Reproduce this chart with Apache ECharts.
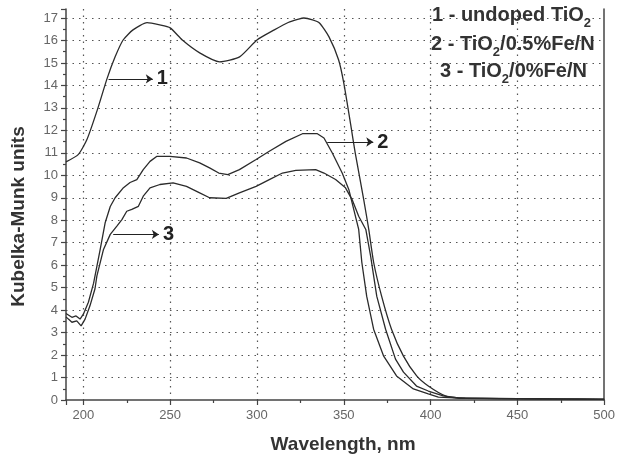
<!DOCTYPE html>
<html>
<head>
<meta charset="utf-8">
<script src="https://cdn.jsdelivr.net/npm/echarts@6/dist/echarts.min.js"></script>
<style>
  html, body { margin: 0; padding: 0; background: #fff; }
  #main { width: 618px; height: 459px; }
</style>
</head>
<body>
<div id="main"></div>
<script>
// curve 1 - undoped TiO2
const wl1 = [190, 197, 202, 208, 213.6, 218.3, 222.9, 228.6, 236.7, 244, 250, 257, 267, 278.5, 290, 300, 310, 318, 324, 327, 332, 336, 341.5, 347, 350, 354, 356.6, 361.5, 364.4, 367.2, 371.8, 377.5, 384.4, 392, 398.7, 408.5, 416, 430, 450, 475, 500]
const km1 = [10.6, 10.92, 11.58, 12.9, 14.29, 15.27, 16.02, 16.47, 16.79, 16.69, 16.56, 16.02, 15.45, 15.05, 15.27, 16.02, 16.47, 16.8, 16.95, 17.0, 16.92, 16.78, 16.16, 15.14, 14.11, 12.25, 11.0, 8.92, 7.59, 6.13, 4.62, 3.15, 1.95, 1.07, 0.62, 0.18, 0.09, 0.07, 0.06, 0.05, 0.04]

// curve 2 - TiO2/0.5%Fe/N
const wl2 = [190, 193.4, 195.8, 198.1, 200, 202.9, 205.9, 209.7, 212.6, 215.5, 218.3, 223.1, 226.9, 230.8, 234.5, 238.4, 242.2, 249.8, 259.4, 267, 272.7, 278, 283.2, 289.9, 299.5, 307.1, 316.7, 326.2, 334.8, 338.6, 343.4, 349.1, 352.9, 358.6, 360.4, 363.2, 367.2, 373, 380.4, 390.1, 398.7, 404.5, 420, 450, 500]
const km2 = [3.85, 3.68, 3.74, 3.6, 3.82, 4.35, 5.2, 6.7, 7.9, 8.61, 9.0, 9.45, 9.68, 9.81, 10.25, 10.62, 10.84, 10.84, 10.77, 10.55, 10.33, 10.1, 10.03, 10.25, 10.7, 11.07, 11.51, 11.85, 11.85, 11.66, 10.99, 10.1, 9.37, 7.59, 6.13, 4.62, 3.15, 1.95, 1.07, 0.49, 0.27, 0.13, 0.07, 0.05, 0.03]

// curve 3 - TiO2/0%Fe/N
const wl3 = [190, 191.4, 193.4, 196.2, 198.7, 201, 203.8, 206.7, 207.8, 211.6, 215.5, 219.3, 222.2, 225, 227.9, 231.7, 234.5, 238.4, 244.1, 251.7, 259.4, 267, 272.7, 282.3, 289.9, 299.5, 307.1, 314.7, 322.4, 333.8, 338.6, 345.3, 351, 354.8, 358.6, 362.7, 365.5, 369, 374.1, 379.8, 384.4, 391.9, 398.7, 407.3, 416, 450, 500]
const km3 = [3.7, 3.6, 3.46, 3.52, 3.3, 3.6, 4.19, 4.95, 5.52, 6.7, 7.37, 7.74, 8.03, 8.4, 8.48, 8.62, 9.07, 9.44, 9.59, 9.66, 9.51, 9.22, 9.0, 8.97, 9.22, 9.51, 9.81, 10.1, 10.22, 10.25, 10.1, 9.81, 9.44, 8.92, 8.18, 7.59, 6.39, 4.62, 3.15, 1.82, 1.24, 0.62, 0.4, 0.18, 0.09, 0.06, 0.03]

// arrows to the curves: [x start, x end, y]
const arrow1 = [214.5, 240, 14.29]
const arrow2 = [340.5, 367, 11.48]
const arrow3 = [217.2, 243.5, 7.37]

const legendLines = [
  ['1 - undoped TiO', '2', ''],
  ['2 - TiO', '2', '/0.5%Fe/N'],
  ['3 - TiO', '2', '/0%Fe/N']
]

function zip (xs, ys) {
  return xs.map((x, i) => [x, ys[i]])
}

const lineColor = '#2b2b2b'
const gridLine = { type: [1.5, 5], color: '#555', width: 1.2 }
const axisColor = '#444'
const font = 'Liberation Sans'

function arrowMark (a, text) {
  return {
    silent: true,
    symbol: ['none', 'arrow'],
    symbolSize: 7,
    lineStyle: { color: '#222', width: 1.2, type: 'solid' },
    label: {
      show: true,
      position: 'end',
      distance: 4,
      formatter: text,
      color: '#222',
      fontSize: 20,
      fontWeight: 'bold',
      fontFamily: font
    },
    emphasis: { disabled: true },
    data: [[{ coord: [a[0], a[2]] }, { coord: [a[1], a[2]] }]]
  }
}

var myChart = echarts.init(document.getElementById('main'))

// text block top right, subscript 2 pushed down with a taller line box
const legendGraphics = legendLines.map((l, i) => ({
  type: 'text',
  left: [432, 431, 440][i],
  top: [5, 34, 61][i],
  z: 10,
  style: {
    text: '{a|' + l[0] + '}{s|' + l[1] + '}{a|' + l[2] + '}',
    rich: {
      a: { fontSize: 20, fontWeight: 'bold', fontFamily: font, fill: '#333', lineHeight: 24 },
      s: { fontSize: 13, fontWeight: 'bold', fontFamily: font, fill: '#333', lineHeight: 30, verticalAlign: 'bottom' }
    }
  }
}))

var option = {
  animation: false,
  grid: { left: 66, right: 12, top: 9, bottom: 58 },
  xAxis: {
    type: 'value',
    min: 190,
    max: 500,
    splitNumber: 6,
    name: 'Wavelength, nm',
    nameLocation: 'middle',
    nameGap: 35,
    nameTextStyle: { fontSize: 19, fontWeight: 'bold', color: '#333', fontFamily: font, padding: [0, 0, 0, 16] },
    axisLine: { show: true, onZero: false, lineStyle: { color: axisColor, width: 1.5 } },
    axisTick: { show: true, inside: false, length: 5, lineStyle: { color: axisColor, width: 1.2 } },
    minorTick: { show: true, splitNumber: 2, length: 3, lineStyle: { color: axisColor, width: 1.2 } },
    axisLabel: { color: '#666', fontSize: 13, margin: 9, showMinLabel: false, fontFamily: font },
    splitLine: { show: true, showMinLine: false, showMaxLine: false, lineStyle: gridLine }
  },
  yAxis: [
    {
      type: 'value',
      min: 0,
      max: 17.4,
      interval: 1,
      name: 'Kubelka-Munk units',
      nameLocation: 'middle',
      nameGap: 38,
      nameTextStyle: { fontSize: 19, fontWeight: 'bold', color: '#333', fontFamily: font, padding: [0, 24, 0, 0] },
      axisLine: { show: true, lineStyle: { color: axisColor, width: 1.5 } },
      axisTick: { show: true, inside: false, length: 5, lineStyle: { color: axisColor, width: 1.2 } },
      minorTick: { show: true, splitNumber: 2, length: 3, lineStyle: { color: axisColor, width: 1.2 } },
      axisLabel: { color: '#666', fontSize: 13, margin: 8, showMaxLabel: false, fontFamily: font },
      splitLine: { show: true, showMinLine: false, showMaxLine: false, lineStyle: gridLine }
    },
    {
      type: 'value',
      position: 'right',
      min: 0,
      max: 17.4,
      interval: 1,
      axisLine: { show: true, lineStyle: { color: axisColor, width: 1.5 } },
      axisTick: { show: false },
      axisLabel: { show: false },
      splitLine: { show: false }
    }
  ],
  graphic: legendGraphics,
  series: [
    {
      name: '1',
      type: 'line',
      showSymbol: false,
      smooth: 0.2,
      lineStyle: { color: lineColor, width: 1.3 },
      data: zip(wl1, km1),
      markLine: arrowMark(arrow1, '1')
    },
    {
      name: '2',
      type: 'line',
      showSymbol: false,
      lineStyle: { color: lineColor, width: 1.3 },
      data: zip(wl2, km2),
      markLine: arrowMark(arrow2, '2')
    },
    {
      name: '3',
      type: 'line',
      showSymbol: false,
      lineStyle: { color: lineColor, width: 1.3 },
      data: zip(wl3, km3),
      markLine: arrowMark(arrow3, '3')
    }
  ]
}

myChart.setOption(option)
</script>
</body>
</html>
